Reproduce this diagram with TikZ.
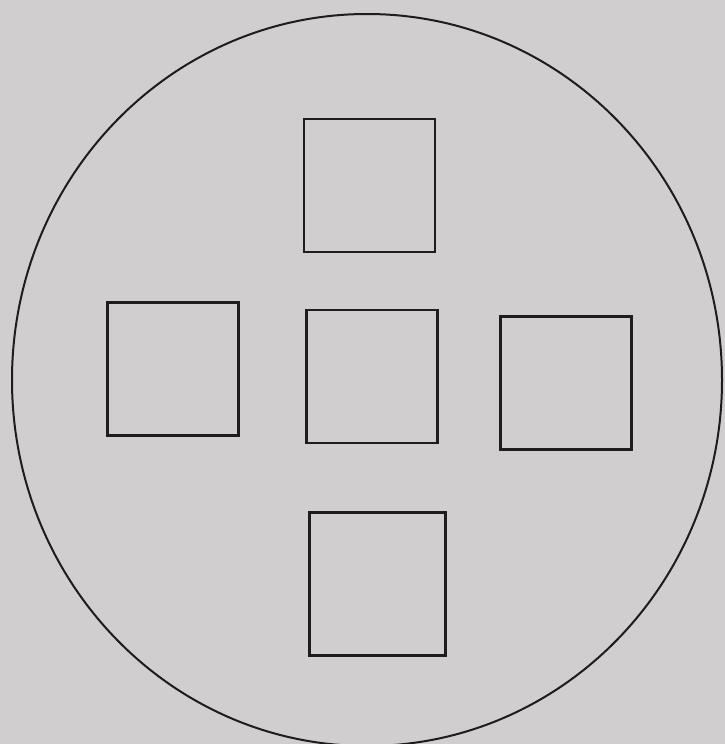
\documentclass[tikz,border=0pt]{standalone}
\definecolor{paper}{RGB}{208,206,207}
\definecolor{ink}{RGB}{30,28,30}
\begin{document}
\begin{tikzpicture}[x=1pt,y=-1pt,
  sq/.style={draw=ink,line width=2.4pt,rectangle,minimum width=131pt,minimum height=133pt,inner sep=0pt},
  rim/.style={draw=ink,line width=2pt}]
\fill[paper] (0,0) rectangle (725,744);
\useasboundingbox (0,0) rectangle (725,744);
\draw[rim] (367,380) ellipse [x radius=355, y radius=366];
\node[sq] (top) at (369.5,185.5) {};
\node[sq] (left) at (173,369) {};
\node[sq] (center) at (372,376.5) {};
\node[sq] (right) at (566,383) {};
\node[sq, minimum width=136pt, minimum height=143pt] (bottom) at (377.5,584) {};
\end{tikzpicture}
\end{document}
